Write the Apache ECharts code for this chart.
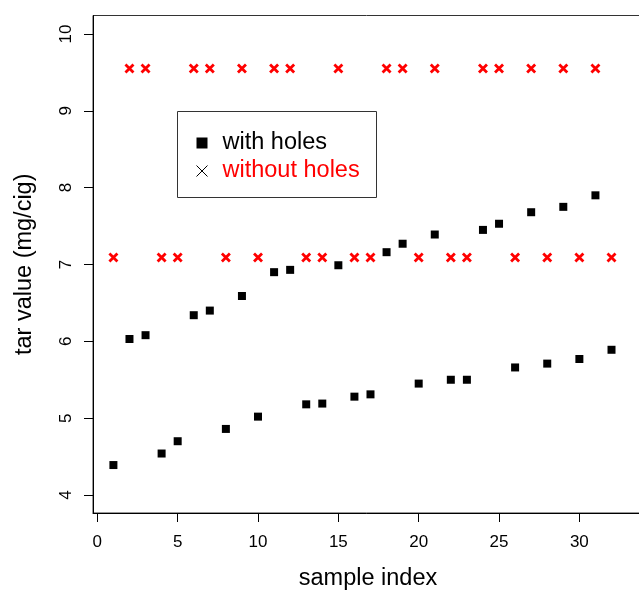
<!DOCTYPE html>
<html>
<head>
<meta charset="utf-8">
<script src="https://cdn.jsdelivr.net/npm/echarts@6/dist/echarts.min.js"></script>
<style>
  html, body { margin: 0; padding: 0; background: #fff; }
  #chart { width: 639px; height: 590px; }
</style>
</head>
<body>
<div id="chart"></div>
<script>
// sample index 1..32
var sampleIndex = [1,2,3,4,5,6,7,8,9,10,11,12,13,14,15,16,17,18,19,20,21,22,23,24,25,26,27,28,29,30,31,32];
// tar value, with holes (black squares)
var withHoles = [4.39,6.03,6.08,4.54,4.70,6.34,6.40,4.86,6.59,5.02,6.90,6.93,5.18,5.19,6.99,5.28,
                 5.31,7.16,7.27,5.45,7.39,5.50,5.50,7.45,7.53,5.66,7.68,5.71,7.75,5.77,7.90,5.89];
// tar value, without holes (red crosses)
var withoutHoles = [7.09,9.55,9.55,7.09,7.09,9.55,9.55,7.09,9.55,7.09,9.55,9.55,7.09,7.09,9.55,7.09,
                    7.09,9.55,9.55,7.09,9.55,7.09,7.09,9.55,9.55,7.09,9.55,7.09,9.55,7.09,9.55,7.09];
var xTicks = [0,5,10,15,20,25,30];
var yTicks = [4,5,6,7,8,9,10];

var FONT = 'Liberation Sans, Arial, sans-serif';
var crossPath = 'path://M0,0L10,10M10,0L0,10';

function pairs(xs, ys){
	var out = [];
	for(var i=0;i<xs.length;i++){
		out.push([xs[i], ys[i]]);
	}
	return out;
}

var chart = echarts.init(document.getElementById('chart'));
var option = {
	animation: false,
	backgroundColor: '#fff',
	textStyle: { fontFamily: FONT },
	grid: {
		left: 93, right: -4, top: 15.5, bottom: 77,
		outerBoundsMode: 'none',
		containLabel: false,
		show: true, borderColor: '#333', borderWidth: 1, backgroundColor: 'transparent'
	},
	xAxis: {
		type: 'value',
		min: -0.27, max: 33.96,
		splitLine: { show: false },
		axisLine: { show: true, onZero: false, lineStyle: { color: '#000', width: 1 } },
		axisTick: { show: true, length: 9, lineStyle: { color: '#000' }, customValues: xTicks },
		axisLabel: { fontSize: 17, color: '#000', margin: 21, fontFamily: FONT, customValues: xTicks },
		name: 'sample index',
		nameLocation: 'middle',
		nameGap: 54,
		nameTextStyle: { fontSize: 23.5, color: '#000', fontFamily: FONT }
	},
	yAxis: {
		type: 'value',
		min: 3.766, max: 10.24,
		splitLine: { show: false },
		axisLine: { show: true, onZero: false, lineStyle: { color: '#000', width: 1 } },
		axisTick: { show: true, length: 9, lineStyle: { color: '#000' }, customValues: yTicks },
		axisLabel: { fontSize: 17, color: '#000', margin: 18, rotate: 90, fontFamily: FONT, customValues: yTicks },
		name: 'tar value (mg/cig)',
		nameLocation: 'middle',
		nameRotate: 90,
		nameGap: 56,
		nameTextStyle: { fontSize: 23.5, color: '#000', fontFamily: FONT }
	},
	legend: {
		orient: 'vertical',
		left: 194, top: 131,
		padding: 0,
		itemWidth: 11, itemHeight: 11,
		itemGap: 4,
		textStyle: { fontSize: 23.5, lineHeight: 24, fontFamily: FONT, padding: [0,0,0,10] },
		data: [
			{ name: 'with holes', icon: 'rect', itemStyle: { color: '#000', opacity: 1 }, textStyle: { color: '#000' } },
			{ name: 'without holes', icon: crossPath,
			  itemStyle: { color: 'none', borderColor: '#000', borderWidth: 1, opacity: 1 }, textStyle: { color: '#ff0000' } }
		]
	},
	graphic: [{
		type: 'rect',
		shape: { x: 177.5, y: 111.5, width: 199, height: 86 },
		style: { fill: 'none', stroke: '#333', lineWidth: 1 },
		z: 10
	}],
	series: [
		{
			name: 'with holes',
			type: 'scatter',
			symbol: 'rect',
			symbolSize: 8,
			itemStyle: { color: '#000', opacity: 1 },
			emphasis: { disabled: true },
			data: pairs(sampleIndex, withHoles)
		},
		{
			name: 'without holes',
			type: 'scatter',
			symbol: crossPath,
			symbolSize: 8,
			itemStyle: { color: '#ff0000', borderColor: '#ff0000', borderWidth: 2.8, opacity: 1 },
			emphasis: { disabled: true },
			data: pairs(sampleIndex, withoutHoles)
		}
	]
};
chart.setOption(option);
</script>
</body>
</html>
